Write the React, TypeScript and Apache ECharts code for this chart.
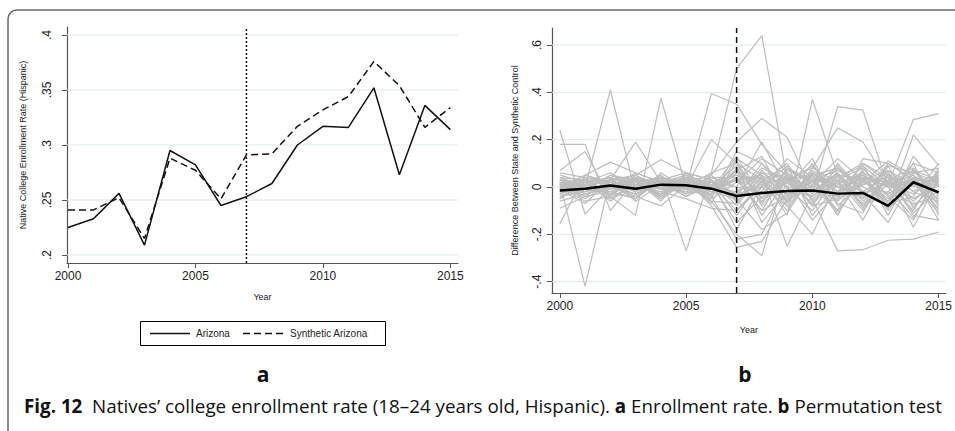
import React, { useEffect, useRef } from "react";
import * as echarts from "echarts";

const years = [2000, 2001, 2002, 2003, 2004, 2005, 2006, 2007, 2008, 2009, 2010, 2011, 2012, 2013, 2014, 2015];
const arizona = [0.225, 0.233, 0.256, 0.209, 0.295, 0.282, 0.245, 0.253, 0.265, 0.300, 0.317, 0.316, 0.352, 0.273, 0.336, 0.314];
const syntheticArizona = [0.241, 0.241, 0.252, 0.215, 0.288, 0.277, 0.251, 0.291, 0.292, 0.317, 0.332, 0.344, 0.376, 0.354, 0.316, 0.334];
const arizonaGap = [-0.015, -0.007, 0.006, -0.007, 0.010, 0.007, -0.007, -0.038, -0.025, -0.017, -0.015, -0.028, -0.025, -0.080, 0.020, -0.023];
const placeboGaps: number[][] = [
  [0.03, -0.02, 0.01, 0.02, 0.03, 0.00, 0.06, 0.50, 0.64, 0.03, 0.05, -0.02, 0.04, 0.00, 0.02, 0.05],
  [0.02, -0.42, 0.04, 0.01, -0.02, 0.03, 0.00, -0.04, 0.02, 0.06, -0.05, 0.03, 0.08, -0.04, 0.01, 0.03],
  [-0.02, 0.00, 0.41, -0.03, 0.01, 0.04, 0.02, 0.05, 0.01, -0.06, 0.03, 0.07, 0.02, -0.03, 0.04, 0.00],
  [0.01, 0.03, -0.04, -0.12, 0.375, 0.00, -0.03, 0.08, -0.05, 0.02, 0.09, -0.04, 0.01, 0.06, -0.08, 0.02],
  [-0.03, 0.02, 0.01, 0.04, 0.02, 0.00, 0.395, 0.35, 0.18, 0.06, -0.02, 0.04, 0.10, 0.02, -0.05, 0.01],
  [0.00, 0.01, 0.03, -0.02, 0.05, -0.27, 0.06, 0.10, -0.08, 0.04, 0.00, -0.10, 0.03, 0.07, -0.02, -0.06],
  [0.18, 0.18, -0.10, 0.03, 0.01, -0.02, 0.02, -0.06, 0.04, -0.03, 0.02, 0.05, -0.06, 0.03, 0.08, -0.04],
  [-0.155, 0.05, 0.02, -0.01, 0.03, 0.02, -0.04, 0.12, 0.05, -0.08, 0.03, 0.00, 0.04, -0.10, 0.06, 0.02],
  [0.07, 0.15, -0.05, 0.02, -0.03, 0.04, -0.02, 0.03, -0.10, 0.08, 0.02, -0.05, 0.01, 0.04, -0.12, -0.14],
  [0.24, -0.115, 0.00, 0.03, 0.01, 0.02, -0.05, 0.15, 0.10, -0.04, 0.06, -0.02, 0.09, 0.00, 0.03, -0.09],
  [-0.05, 0.02, 0.03, 0.19, 0.02, 0.05, 0.01, -0.10, 0.02, 0.10, -0.06, 0.03, -0.02, 0.05, 0.00, 0.04],
  [0.00, 0.05, 0.105, 0.06, 0.02, 0.04, -0.01, 0.07, -0.12, 0.03, 0.08, 0.02, -0.07, 0.01, 0.05, -0.03],
  [-0.04, -0.02, 0.02, 0.05, 0.115, 0.06, 0.03, -0.05, 0.06, 0.00, -0.10, 0.05, 0.03, -0.06, 0.10, 0.06],
  [0.02, -0.03, 0.00, 0.04, 0.00, 0.00, 0.20, 0.10, 0.03, -0.05, 0.05, 0.08, -0.03, 0.02, -0.10, 0.08],
  [0.01, 0.00, -0.03, 0.02, 0.04, 0.01, -0.02, 0.03, 0.04, -0.12, 0.37, 0.05, -0.08, 0.03, 0.02, -0.05],
  [-0.02, 0.03, 0.01, -0.04, 0.02, 0.03, 0.00, -0.02, 0.06, 0.04, -0.03, 0.34, 0.325, 0.00, 0.07, 0.03],
  [0.03, 0.01, -0.02, 0.00, -0.03, 0.04, 0.02, 0.05, -0.03, 0.07, 0.02, -0.04, 0.06, 0.01, 0.285, 0.31],
  [-0.01, 0.02, 0.04, -0.01, 0.00, -0.02, 0.05, 0.19, 0.29, 0.21, -0.02, 0.06, -0.05, 0.10, 0.03, -0.02],
  [0.00, -0.01, 0.05, 0.03, -0.05, 0.02, -0.03, 0.06, 0.02, -0.06, 0.08, 0.25, 0.19, 0.02, -0.06, 0.04],
  [0.04, 0.00, -0.01, 0.06, 0.02, -0.04, 0.01, -0.03, 0.08, 0.03, -0.07, 0.02, 0.05, -0.08, 0.22, 0.09],
  [-0.03, 0.04, 0.02, -0.02, 0.03, 0.01, -0.06, -0.20, -0.29, 0.08, 0.01, -0.06, 0.04, 0.02, -0.03, 0.05],
  [0.01, -0.04, -0.02, 0.02, -0.04, 0.03, -0.08, -0.255, -0.23, -0.05, 0.06, 0.00, -0.04, 0.07, 0.01, -0.07],
  [-0.02, 0.01, -0.05, 0.01, 0.02, -0.03, 0.03, -0.08, 0.05, -0.25, -0.03, 0.08, 0.00, -0.06, 0.04, 0.02],
  [0.02, -0.02, 0.00, -0.03, 0.01, 0.02, -0.02, 0.04, -0.06, 0.02, -0.05, -0.27, -0.265, -0.225, -0.22, -0.19],
  [-0.06, -0.03, 0.01, 0.00, -0.02, -0.05, -0.09, -0.10, 0.00, -0.08, -0.20, 0.03, -0.10, 0.05, -0.02, 0.06],
  [0.03, 0.02, -0.03, -0.04, -0.08, 0.01, -0.04, -0.22, -0.20, 0.02, -0.04, 0.06, -0.08, -0.02, 0.10, -0.12],
  [-0.01, -0.07, 0.03, 0.05, 0.00, -0.01, 0.04, 0.00, -0.02, 0.12, 0.04, -0.12, 0.08, -0.04, -0.14, 0.07],
  [0.05, 0.02, 0.06, -0.01, 0.04, 0.02, 0.05, -0.04, 0.10, 0.00, 0.12, -0.08, 0.02, 0.11, 0.05, -0.10],
  [-0.04, 0.00, -0.02, 0.03, -0.05, 0.06, -0.01, 0.13, -0.05, 0.05, -0.02, 0.02, -0.14, 0.06, -0.05, 0.01],
  [0.00, 0.03, -0.06, 0.02, 0.02, -0.01, 0.03, -0.12, 0.03, -0.10, 0.06, -0.03, 0.07, -0.12, 0.08, -0.08],
  [0.02, -0.01, 0.01, -0.05, 0.03, 0.00, -0.05, 0.02, 0.12, 0.05, -0.08, -0.05, 0.10, 0.04, -0.17, 0.03],
  [-0.03, 0.01, -0.01, 0.02, -0.01, 0.04, 0.00, 0.09, -0.15, -0.02, 0.00, 0.09, -0.03, -0.15, 0.04, -0.14],
  [0.01, -0.05, 0.02, 0.00, 0.05, -0.03, 0.02, -0.03, 0.00, 0.09, -0.12, 0.01, 0.06, -0.09, 0.13, 0.00],
  [-0.05, 0.02, 0.04, -0.06, 0.01, 0.00, 0.04, 0.04, -0.10, -0.04, 0.10, -0.07, -0.11, 0.09, -0.09, 0.05],
  [0.03, -0.01, 0.00, 0.03, -0.06, 0.05, -0.06, -0.07, 0.07, -0.06, 0.01, 0.12, 0.03, -0.05, 0.02, -0.11],
  [-0.09, -0.04, 0.03, -0.02, 0.04, 0.02, 0.01, -0.15, -0.04, 0.03, -0.14, -0.02, 0.05, 0.00, -0.13, 0.04],
  [0.06, 0.04, -0.04, 0.05, -0.01, -0.02, -0.03, 0.07, 0.13, -0.07, 0.07, 0.00, -0.05, 0.09, 0.06, 0.08],
  [-0.01, 0.05, 0.01, -0.03, 0.03, 0.06, 0.03, -0.18, 0.01, 0.04, -0.08, 0.10, -0.02, -0.02, -0.07, -0.04],
  [0.00, -0.06, -0.04, 0.04, -0.04, 0.03, -0.07, 0.11, -0.07, 0.08, 0.03, -0.10, 0.12, 0.10, 0.03, 0.02],
  [0.04, 0.03, 0.02, -0.01, 0.02, -0.04, 0.02, 0.00, 0.19, -0.01, -0.04, 0.04, 0.09, -0.07, -0.04, 0.10],
  [-0.02, -0.02, 0.05, 0.01, -0.03, 0.01, -0.02, -0.05, -0.18, -0.11, 0.05, -0.11, 0.04, 0.00, 0.07, -0.06],
  [0.02, 0.01, -0.02, -0.05, 0.06, -0.01, 0.01, 0.03, 0.05, 0.00, -0.02, 0.05, -0.09, 0.05, -0.11, -0.01],
];
const xTicks = [2000, 2005, 2010, 2015];
const leftYTicks = [0.2, 0.25, 0.3, 0.35, 0.4];
const rightYTicks = [-0.4, -0.2, 0, 0.2, 0.4, 0.6];
const legendLabels = ["Arizona", "Synthetic Arizona"];
const treatmentYear = 2007;
const leftX = [1999.96, 2015.3];
const leftY = [0.1927, 0.4073];
const rightX = [1999.69, 2015.28];
const rightY = [-0.448, 0.672];

const FONT = "'Liberation Sans', Arial, sans-serif";
const CAPTION_FONT = "'Open Sans', 'Noto Sans', sans-serif";
const AXIS_COLOR = "#555";
const GRID_COLOR = "#dde8eb";
const SYNTH_DASH = [7, 4];

const stataLabel = (v: number) => {
  if (Math.abs(v) < 1e-9) return "0";
  const s = String(Math.round(v * 1000) / 1000);
  return s.replace("0.", ".");
};

const pairs = (vals: number[]) => years.map((y, i) => [y, vals[i]]);

export default function App() {
  const ref = useRef<HTMLDivElement>(null);
  useEffect(() => {
    document.body.style.margin = "0";
    if (!ref.current) return;
    const chart = echarts.init(ref.current, undefined, { renderer: "svg" });

    const gridSeries = (ticks: number[], xr: number[], idx: number) =>
      ticks.map((t) => ({
        type: "line",
        xAxisIndex: idx,
        yAxisIndex: idx,
        data: [[xr[0], t], [xr[1], t]],
        symbol: "none",
        silent: true,
        lineStyle: { color: GRID_COLOR, width: 1 },
        z: 1,
      }));

    const xAxisBase = (idx: number, xr: number[], gap: number) => ({
      gridIndex: idx,
      type: "value",
      min: xr[0],
      max: xr[1],
      name: "Year",
      nameLocation: "middle",
      nameGap: gap,
      nameTextStyle: { fontSize: 9, color: "#222", fontFamily: FONT },
      axisLine: { show: true, onZero: false, lineStyle: { color: AXIS_COLOR, width: 1.2 } },
      axisTick: { show: true, customValues: xTicks, length: 5, lineStyle: { color: AXIS_COLOR } },
      axisLabel: { customValues: xTicks, fontSize: 12, color: "#222", fontFamily: FONT, margin: 7, formatter: (v: number) => String(v) },
      splitLine: { show: false },
    });

    const yAxisBase = (idx: number, yr: number[], ticks: number[], name: string, gap: number, margin: number) => ({
      gridIndex: idx,
      type: "value",
      min: yr[0],
      max: yr[1],
      name,
      nameLocation: "middle",
      nameGap: gap,
      nameTextStyle: { fontSize: 9, color: "#222", fontFamily: FONT },
      axisLine: { show: true, onZero: false, lineStyle: { color: AXIS_COLOR, width: 1.2 } },
      axisTick: { show: true, customValues: ticks, length: 5, lineStyle: { color: AXIS_COLOR } },
      axisLabel: { customValues: ticks, rotate: 90, fontSize: 12, color: "#222", fontFamily: FONT, margin, formatter: stataLabel },
      splitLine: { show: false },
    });

    const legendY = 333.5;
    const option: any = {
      animation: false,
      backgroundColor: "#fff",
      textStyle: { fontFamily: FONT },
      grid: [
        { left: 67, right: 955 - 458, top: 27, bottom: 431 - 263 },
        { left: 552, right: 955 - 948, top: 28, bottom: 431 - 293 },
      ],
      xAxis: [xAxisBase(0, leftX, 29), xAxisBase(1, rightX, 32)],
      yAxis: [
        yAxisBase(0, leftY, leftYTicks, "Native College Enrollment Rate (Hispanic)", 40, 14),
        yAxisBase(1, rightY, rightYTicks, "Difference Between State and Synthetic Control", 33, 9),
      ],
      graphic: [
        {
          type: "rect",
          shape: { x: 8, y: 10, width: 1000, height: 500, r: [9, 0, 0, 0] },
          style: { fill: "none", stroke: "#6a6a6a", lineWidth: 1.5 },
          silent: true,
          z: 0,
        },
        {
          type: "group",
          silent: true,
          children: [
            { type: "rect", shape: { x: 140.5, y: 321.5, width: 245, height: 24 }, style: { fill: "#fff", stroke: "#000", lineWidth: 1 } },
            { type: "line", shape: { x1: 150, y1: legendY, x2: 190, y2: legendY }, style: { stroke: "#111", lineWidth: 1.5 } },
            { type: "text", x: 196, y: legendY, style: { text: legendLabels[0], fontSize: 10, fontFamily: FONT, fill: "#222", verticalAlign: "middle" } },
            { type: "line", shape: { x1: 243, y1: legendY, x2: 284, y2: legendY }, style: { stroke: "#111", lineWidth: 1.5, lineDash: SYNTH_DASH } },
            { type: "text", x: 290, y: legendY, style: { text: legendLabels[1], fontSize: 10, fontFamily: FONT, fill: "#222", verticalAlign: "middle" } },
          ],
        },
        {
          type: "text",
          x: 263,
          y: 374,
          style: { text: "a", fontSize: 21, fontWeight: "bold", fontFamily: CAPTION_FONT, fill: "#111", align: "center", verticalAlign: "middle" },
        },
        {
          type: "text",
          x: 745,
          y: 374,
          style: { text: "b", fontSize: 21, fontWeight: "bold", fontFamily: CAPTION_FONT, fill: "#111", align: "center", verticalAlign: "middle" },
        },
        {
          type: "text",
          x: 24,
          y: 406,
          style: {
            text: "{b|Fig. 12}  Natives\u2019 college enrollment rate (18\u201324 years old, Hispanic). {b|a} Enrollment rate. {b|b} Permutation test",
            fontSize: 18.8,
            fontFamily: CAPTION_FONT,
            fill: "#111",
            verticalAlign: "middle",
            rich: { b: { fontWeight: "bold", fontSize: 18.8, fontFamily: CAPTION_FONT, fill: "#111" } },
          },
        },
      ],
      series: [
        ...gridSeries(leftYTicks, leftX, 0),
        ...gridSeries(rightYTicks, rightX, 1),
        {
          type: "line",
          xAxisIndex: 0,
          yAxisIndex: 0,
          data: [[treatmentYear, leftY[0]], [treatmentYear, leftY[1]]],
          symbol: "none",
          silent: true,
          lineStyle: { color: "#111", width: 1.5, type: [2, 2] },
          z: 3,
        },
        {
          name: legendLabels[0],
          type: "line",
          xAxisIndex: 0,
          yAxisIndex: 0,
          data: pairs(arizona),
          symbol: "none",
          lineStyle: { color: "#111", width: 1.5, type: "solid" },
          z: 4,
        },
        {
          name: legendLabels[1],
          type: "line",
          xAxisIndex: 0,
          yAxisIndex: 0,
          data: pairs(syntheticArizona),
          symbol: "none",
          lineStyle: { color: "#111", width: 1.5, type: SYNTH_DASH },
          z: 4,
        },
        ...placeboGaps.map((g, i) => ({
          name: "placebo" + (i + 1),
          type: "line",
          xAxisIndex: 1,
          yAxisIndex: 1,
          data: pairs(g),
          symbol: "none",
          silent: true,
          lineStyle: { color: "#bdbdbd", width: 1.2 },
          z: 2,
        })),
        {
          type: "line",
          xAxisIndex: 1,
          yAxisIndex: 1,
          data: [[treatmentYear, rightY[0]], [treatmentYear, rightY[1]]],
          symbol: "none",
          silent: true,
          lineStyle: { color: "#111", width: 1.5, type: [6, 4] },
          z: 3,
        },
        {
          name: "Arizona gap",
          type: "line",
          xAxisIndex: 1,
          yAxisIndex: 1,
          data: pairs(arizonaGap),
          symbol: "none",
          lineStyle: { color: "#000", width: 2.5 },
          z: 5,
        },
      ],
    };
    chart.setOption(option);
    return () => chart.dispose();
  }, []);
  return <div ref={ref} style={{ width: 955, height: 431 }} />;
}
